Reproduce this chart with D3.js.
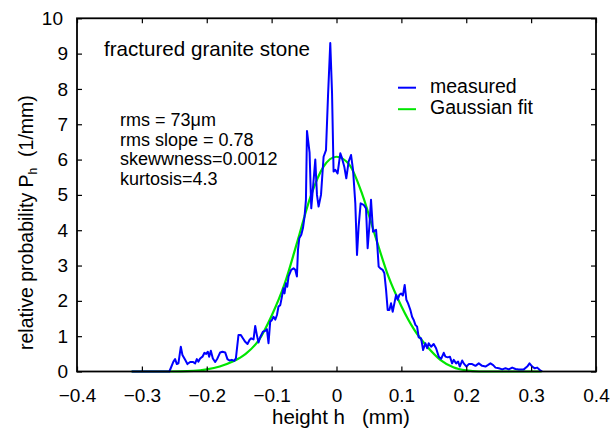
<!DOCTYPE html>
<html><head><meta charset="utf-8">
<script src="https://cdn.jsdelivr.net/npm/d3@7"></script>
<style>
html,body{margin:0;padding:0;background:#fff;}
text{font-family:"Liberation Sans",Arial,Helvetica,sans-serif;fill:#000;}
</style></head>
<body>
<svg id="chart" width="615" height="433"></svg>
<script>
const heightH = [-0.3156,-0.2576,-0.2514,-0.2488,-0.2461,-0.2437,-0.2400,-0.2375,-0.2333,-0.2298,-0.2256,-0.2215,-0.2179,-0.2153,-0.2128,-0.2102,-0.2066,-0.2035,-0.2009,-0.1983,-0.1963,-0.1937,-0.1906,-0.1870,-0.1835,-0.1793,-0.1758,-0.1716,-0.1681,-0.1650,-0.1613,-0.1577,-0.1551,-0.1511,-0.1474,-0.1443,-0.1407,-0.1372,-0.1341,-0.1315,-0.1279,-0.1253,-0.1227,-0.1202,-0.1176,-0.1134,-0.1099,-0.1073,-0.1048,-0.1022,-0.0995,-0.0971,-0.0944,-0.0918,-0.0894,-0.0867,-0.0841,-0.0816,-0.0801,-0.0779,-0.0759,-0.0739,-0.0698,-0.0662,-0.0636,-0.0610,-0.0594,-0.0574,-0.0543,-0.0517,-0.0492,-0.0471,-0.0455,-0.0415,-0.0389,-0.0353,-0.0327,-0.0301,-0.0276,-0.0239,-0.0199,-0.0162,-0.0131,-0.0096,-0.0069,-0.0045,-0.0019,0.0017,0.0059,0.0085,0.0120,0.0151,0.0187,0.0224,0.0255,0.0290,0.0316,0.0341,0.0372,0.0418,0.0455,0.0480,0.0506,0.0532,0.0563,0.0610,0.0630,0.0650,0.0676,0.0711,0.0738,0.0764,0.0789,0.0815,0.0841,0.0866,0.0892,0.0918,0.0943,0.0969,0.0995,0.1023,0.1051,0.1077,0.1103,0.1139,0.1165,0.1190,0.1216,0.1242,0.1267,0.1304,0.1335,0.1370,0.1397,0.1421,0.1458,0.1498,0.1535,0.1576,0.1613,0.1653,0.1679,0.1715,0.1748,0.1782,0.1807,0.1844,0.1875,0.1900,0.1937,0.1961,0.2003,0.2039,0.2091,0.2142,0.2193,0.2245,0.2296,0.2332,0.2373,0.2415,0.2451,0.2502,0.2554,0.2605,0.2656,0.2708,0.2759,0.2810,0.2887,0.2940,0.2975,0.3017,0.3056,0.3094,0.3134,0.3171];
const probMeasured = [0,0,0.28,0.35,0.21,0.23,0.70,0.47,0.33,0.21,0.27,0.27,0.23,0.35,0.28,0.37,0.42,0.53,0.50,0.56,0.42,0.59,0.37,0.27,0.37,0.54,0.56,0.54,0.35,0.31,0.33,0.30,0.37,1.03,1.03,0.94,0.84,0.78,0.89,0.94,0.91,1.29,1.03,0.82,0.97,1.13,1.15,1.20,0.80,1.41,1.46,1.55,1.47,1.60,1.84,1.88,2.12,2.36,2.21,2.50,2.40,2.69,2.88,2.92,2.88,2.69,3.44,3.77,3.87,4.06,4.39,4.86,6.81,6.20,4.62,5.42,6.00,5.00,4.67,5.00,6.08,6.27,7.79,9.30,7.90,5.66,5.71,5.61,6.18,6.04,5.80,5.47,5.94,6.13,5.71,4.76,3.30,4.10,4.76,4.72,4.62,3.49,4.10,4.86,3.96,4.01,3.54,2.97,2.92,2.88,2.78,2.31,1.74,1.74,1.93,1.69,1.93,2.17,2.03,2.17,2.21,2.15,2.45,2.03,1.93,1.74,1.55,1.46,1.32,1.27,0.97,0.94,0.61,0.80,0.66,0.80,0.70,0.78,0.66,0.42,0.36,0.53,0.42,0.40,0.42,0.23,0.33,0.23,0.28,0.14,0.31,0.23,0.14,0.21,0.21,0.16,0.23,0.16,0.14,0.18,0.23,0.18,0.11,0.09,0.06,0.09,0.06,0.11,0.07,0.06,0.06,0.14,0.23,0.14,0.09,0.11,0.04,0];
const fitH = [-0.316,-0.26,-0.22,-0.20,-0.18,-0.16,-0.14,-0.12,-0.10,-0.08,-0.06,-0.04,-0.02,0,0.02,0.04,0.06,0.08,0.10,0.12,0.14,0.16,0.18,0.20,0.22,0.316];
const probFit = [0,0,0.02,0.06,0.14,0.28,0.50,0.88,1.58,2.48,3.70,4.95,5.80,6.08,5.85,5.00,3.82,2.69,1.85,1.18,0.70,0.33,0.12,0.03,0,0];
const xTicks = [-0.4,-0.3,-0.2,-0.1,0,0.1,0.2,0.3,0.4];
const yTicks = [0,1,2,3,4,5,6,7,8,9,10];
const seriesNames = ["measured","Gaussian fit"];
const statLines = ["rms = 73\u03bcm","rms slope = 0.78","skewwness=0.0012","kurtosis=4.3"];
const titleText = "fractured granite stone";

const svg = d3.select("#chart");
const L=77, R=596, T=18.3, B=371.5;
const x = d3.scaleLinear().domain([-0.4,0.4]).range([L,R]);
const y = d3.scaleLinear().domain([0,10]).range([B,T]);
const fmt = d => String(+d.toFixed(1)).replace("-","\u2212");

// curves
const fitData = fitH.map((h,i)=>[h,probFit[i]]);
const measData = heightH.map((h,i)=>[h,probMeasured[i]]);
svg.append("path").attr("d", d3.line().x(d=>x(d[0])).y(d=>y(d[1])).curve(d3.curveMonotoneX)(fitData))
  .attr("fill","none").attr("stroke","#00e600").attr("stroke-width",2.2);
svg.append("path").attr("d", d3.line().x(d=>x(d[0])).y(d=>y(d[1]))(measData))
  .attr("fill","none").attr("stroke","#0000ff").attr("stroke-width",2).attr("stroke-linejoin","round");

// axes
const fs = 19;
function styleAxis(g){ g.select(".domain").remove(); g.selectAll("line").attr("stroke","#000").attr("stroke-width",1.2);
  g.selectAll("text").attr("font-size",fs).attr("font-family","Liberation Sans, Arial, sans-serif").attr("fill","#000"); }
svg.append("g").attr("transform",`translate(0,${B})`)
  .call(d3.axisBottom(x).tickValues(xTicks).tickFormat(fmt).tickSizeInner(-5).tickSizeOuter(0).tickPadding(17))
  .call(styleAxis);
svg.append("g").attr("transform",`translate(0,${T})`)
  .call(d3.axisTop(x).tickValues(xTicks).tickFormat("").tickSizeInner(-5).tickSizeOuter(0))
  .call(styleAxis);
svg.append("g").attr("transform",`translate(${L},0)`)
  .call(d3.axisLeft(y).tickValues(yTicks).tickFormat(fmt).tickSizeInner(-5).tickSizeOuter(0).tickPadding(9))
  .call(styleAxis)
  .call(g=>g.selectAll(".tick text").filter(d=>d===10).attr("dx",-5));
svg.append("g").attr("transform",`translate(${R},0)`)
  .call(d3.axisRight(y).tickValues(yTicks).tickFormat("").tickSizeInner(-5).tickSizeOuter(0))
  .call(styleAxis);

// frame
svg.append("rect").attr("x",L).attr("y",T).attr("width",R-L).attr("height",B-T)
  .attr("fill","none").attr("stroke","#000").attr("stroke-width",1.8);

// axis titles
svg.append("text").attr("x",272).attr("y",424).attr("text-anchor","start").attr("font-size",20.5)
  .text("height h\u00a0\u00a0 (mm)");
const yl = svg.append("text").attr("transform","translate(33,350) rotate(-90)").attr("text-anchor","start").attr("font-size",19.5);
yl.append("tspan").text("relative probability P");
yl.append("tspan").attr("font-size",12).attr("dy",4).text("h");
yl.append("tspan").attr("dy",-4).text("\u00a0 (1/mm)");

// annotations
svg.append("text").attr("x",104).attr("y",55.5).attr("font-size",20.6).text(titleText);
svg.selectAll("text.stat").data(statLines).join("text").attr("class","stat")
  .attr("x",120).attr("y",(d,i)=>126+i*19.7).attr("font-size",18).text(d=>d);

// legend
const legColors = ["#0000ff","#00e600"];
seriesNames.forEach((n,i)=>{
  const yy = 87.7 + i*21.5;
  svg.append("line").attr("x1",398).attr("x2",416).attr("y1",yy).attr("y2",yy)
    .attr("stroke",legColors[i]).attr("stroke-width",2);
  svg.append("text").attr("x",430).attr("y",yy+5).attr("font-size",19.5).text(n);
});
</script>
</body></html>
